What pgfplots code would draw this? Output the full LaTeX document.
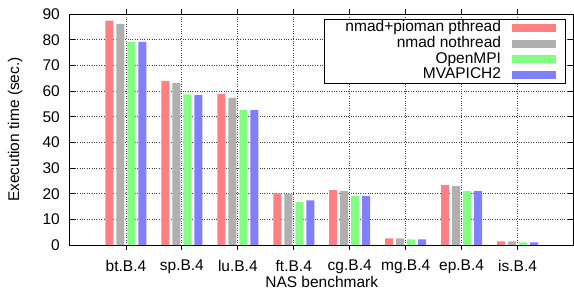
\documentclass[border=0pt]{standalone}
\usepackage{pgfplots}
\pgfplotsset{compat=1.18}
\usepackage{fontspec}
\setmainfont{Liberation Sans}
\definecolor{cred}{HTML}{FF8080}
\definecolor{cgray}{HTML}{B0B0B0}
\definecolor{cgreen}{HTML}{80FF80}
\definecolor{cblue}{HTML}{8080FF}
\pgfplotsset{mybarlegend/.style={legend image code/.code={\path (0pt,0pt); \fill[##1] (11pt,-4pt) rectangle (55pt,4pt);}}}
\begin{document}
\begin{tikzpicture}
\useasboundingbox (-70pt,-50pt) rectangle (504pt,245pt);
\begin{axis}[
  at={(0pt,0pt)}, anchor=south west,
  scale only axis, width=503.5pt, height=231pt,
  font=\fontsize{15.5}{16}\selectfont,
  /pgf/number format/assume math mode=true,
  ybar=3pt, bar width=8pt,
  every axis plot/.append style={mybarlegend},
  xmin=-1, xmax=8, ymin=0, ymax=90,
  xtick={0,1,2,3,4,5,6,7},
  xticklabels={bt.B.4,sp.B.4,lu.B.4,ft.B.4,cg.B.4,mg.B.4,ep.B.4,is.B.4},
  ytick={0,10,...,90},
  grid=major,
  grid style={dotted, black!75, line width=0.8pt},
  axis line style={black, line width=1pt},
  tick style={black, line width=0.8pt},
  major tick length=5pt,
  tick label style={inner sep=0pt},
  xticklabel style={yshift=-10pt},
  yticklabel style={xshift=-10pt},
  xlabel={NAS benchmark},
  ylabel={Execution time (sec.)},
  xlabel style={at={(axis description cs:0.5,-0.158)}, anchor=center},
  ylabel style={at={(axis description cs:-0.109,0.5)}, anchor=center},
  legend cell align=right,
  legend plot pos=right,
  legend style={at={(axis description cs:0.984,0.978)}, anchor=north east,
    draw=black, line width=0.8pt, inner xsep=9pt, inner ysep=0.5pt,
    font=\fontsize{15.5}{16}\selectfont,
    row sep=0pt, column sep=0pt,
    nodes={inner ysep=0pt, inner xsep=0pt, text height=11.5pt, text depth=4.3pt}},
]
\addplot[fill=cred, draw=none]
  coordinates {(0,87.4) (1,63.9) (2,58.9) (3,20.1) (4,21.4) (5,2.6) (6,23.3) (7,1.4)};
\addlegendentry{\hspace*{12pt}nmad+pioman pthread}
\addplot[fill=cgray, draw=none]
  coordinates {(0,86.2) (1,63.1) (2,57.3) (3,19.9) (4,21.0) (5,2.6) (6,22.9) (7,1.4)};
\addlegendentry{nmad nothread}
\addplot[fill=cgreen, draw=none]
  coordinates {(0,79.1) (1,58.7) (2,52.6) (3,16.7) (4,19.0) (5,2.2) (6,21.0) (7,1.0)};
\addlegendentry{OpenMPI}
\addplot[fill=cblue, draw=none]
  coordinates {(0,79.1) (1,58.4) (2,52.6) (3,17.4) (4,19.0) (5,2.2) (6,21.0) (7,1.0)};
\addlegendentry{MVAPICH2}
\end{axis}
\end{tikzpicture}
\end{document}
